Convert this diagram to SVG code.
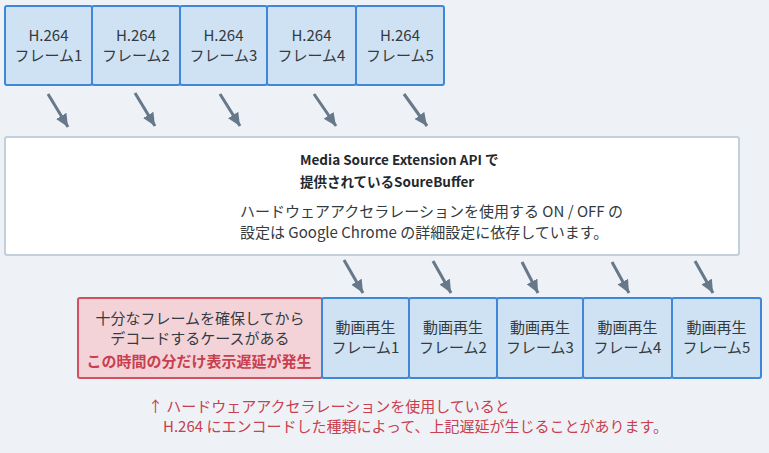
<svg xmlns="http://www.w3.org/2000/svg" width="769" height="453" viewBox="0 0 769 453">
<defs>
<style>
.bg{fill:#eef2f6}
.blue{fill:#cfe2f3;stroke:#3f87d8;stroke-width:2}
.red{fill:#f4d3d8;stroke:#d2505f;stroke-width:2}
.main{fill:#ffffff;stroke:#c3cfda;stroke-width:2}
.t{font-family:"Noto Sans CJK JP","Noto Sans",sans-serif;font-size:15px;fill:#333a40;text-anchor:middle}
.tb{font-family:"Noto Sans CJK JP","Noto Sans",sans-serif;font-size:13.5px;font-weight:bold;fill:#23282d}
.tl{font-family:"Noto Sans CJK JP","Noto Sans",sans-serif;font-size:15px;fill:#333a40}
.rt{font-family:"Noto Sans CJK JP","Noto Sans",sans-serif;font-size:15px;fill:#c8404f}
.rb{font-family:"Noto Sans CJK JP","Noto Sans",sans-serif;font-size:15px;font-weight:bold;fill:#c8404f;text-anchor:middle}
.arr{stroke:#66788a;stroke-width:3;fill:none;marker-end:url(#ah)}
</style>
<marker id="ah" markerUnits="userSpaceOnUse" markerWidth="14" markerHeight="14" viewBox="0 0 14 14" refX="13" refY="7" orient="auto">
<path d="M0,1 L13,7 L0,13 Z" fill="#66788a"/>
</marker>
</defs>
<rect class="bg" x="0" y="0" width="769" height="453"/>

<g id="h264-1"><rect class="blue" x="5" y="6" width="87" height="79" rx="2"/><text class="t" x="48.5" y="41">H.264</text><text class="t" x="48.5" y="61">フレーム1</text></g>
<g id="h264-2"><rect class="blue" x="92" y="6" width="88" height="79" rx="2"/><text class="t" x="136" y="41">H.264</text><text class="t" x="136" y="61">フレーム2</text></g>
<g id="h264-3"><rect class="blue" x="180" y="6" width="87" height="79" rx="2"/><text class="t" x="223.5" y="41">H.264</text><text class="t" x="223.5" y="61">フレーム3</text></g>
<g id="h264-4"><rect class="blue" x="267" y="6" width="89" height="79" rx="2"/><text class="t" x="311.5" y="41">H.264</text><text class="t" x="311.5" y="61">フレーム4</text></g>
<g id="h264-5"><rect class="blue" x="356" y="6" width="88" height="79" rx="2"/><text class="t" x="400" y="41">H.264</text><text class="t" x="400" y="61">フレーム5</text></g>

<g id="sourcebuffer">
<rect class="main" x="5" y="137" width="734" height="118" rx="2"/>
<text class="tb" x="300" y="165">Media Source Extension API で</text>
<text class="tb" x="300" y="187">提供されているSoureBuffer</text>
<text class="tl" x="240" y="217">ハードウェアアクセラレーションを使用する ON / OFF の</text>
<text class="tl" x="240" y="238">設定は Google Chrome の詳細設定に依存しています。</text>
</g>

<g id="delay-note">
<rect class="red" x="78" y="298" width="244" height="80" rx="2"/>
<text class="t" x="200" y="324">十分なフレームを確保してから</text>
<text class="t" x="200" y="344">デコードするケースがある</text>
<text class="rb" x="199" y="367">この時間の分だけ表示遅延が発生</text>
</g>

<g id="play-1"><rect class="blue" x="322" y="298" width="87" height="80" rx="2"/><text class="t" x="365.5" y="333">動画再生</text><text class="t" x="365.5" y="353">フレーム1</text></g>
<g id="play-2"><rect class="blue" x="409" y="298" width="88" height="80" rx="2"/><text class="t" x="453" y="333">動画再生</text><text class="t" x="453" y="353">フレーム2</text></g>
<g id="play-3"><rect class="blue" x="497" y="298" width="86" height="80" rx="2"/><text class="t" x="540" y="333">動画再生</text><text class="t" x="540" y="353">フレーム3</text></g>
<g id="play-4"><rect class="blue" x="583" y="298" width="89" height="80" rx="2"/><text class="t" x="627.5" y="333">動画再生</text><text class="t" x="627.5" y="353">フレーム4</text></g>
<g id="play-5"><rect class="blue" x="672" y="298" width="89" height="80" rx="2"/><text class="t" x="716.5" y="333">動画再生</text><text class="t" x="716.5" y="353">フレーム5</text></g>

<g id="connectors">
<line class="arr" x1="48" y1="94" x2="68" y2="127"/>
<line class="arr" x1="135" y1="93" x2="155" y2="126"/>
<line class="arr" x1="220" y1="94" x2="240" y2="126"/>
<line class="arr" x1="314" y1="94" x2="336" y2="126"/>
<line class="arr" x1="404" y1="94" x2="427" y2="126"/>
<line class="arr" x1="344" y1="260" x2="363" y2="293"/>
<line class="arr" x1="433" y1="261" x2="451" y2="293"/>
<line class="arr" x1="522" y1="262" x2="538" y2="293"/>
<line class="arr" x1="612" y1="262" x2="629" y2="293"/>
<line class="arr" x1="695" y1="261" x2="713" y2="293"/>
</g>

<g id="footnote">
<text class="rt" x="148" y="412">↑ ハードウェアアクセラレーションを使用していると</text>
<text class="rt" x="163" y="432">H.264 にエンコードした種類によって、上記遅延が生じることがあります。</text>
</g>
</svg>
